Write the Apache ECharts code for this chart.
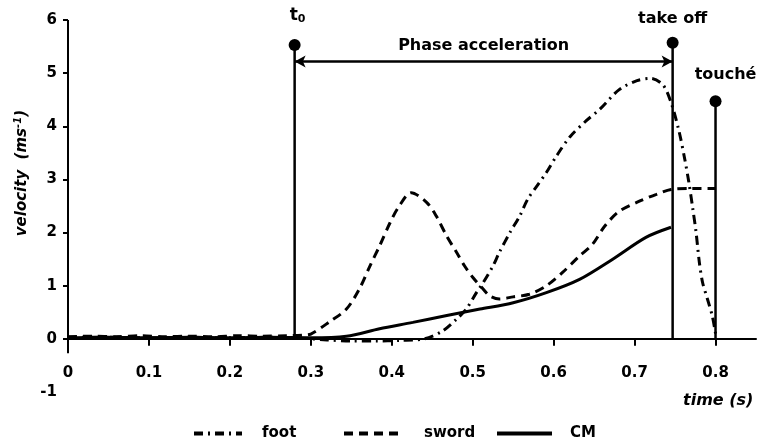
<!DOCTYPE html>
<html>
<head>
<meta charset="utf-8">
<script src="https://cdn.jsdelivr.net/npm/echarts@6/dist/echarts.min.js"></script>
<style>html,body{margin:0;padding:0;background:#fff}#c{width:758px;height:448px}</style>
</head>
<body>
<div id="c"></div>
<script>
// ---- data ----
const xTicks = [0, 0.1, 0.2, 0.3, 0.4, 0.5, 0.6, 0.7, 0.8];
const yTicks = [0, 1, 2, 3, 4, 5, 6];
const yLabels = [-1, 0, 1, 2, 3, 4, 5, 6];

const footT = [0, 0.05, 0.1, 0.15, 0.2, 0.25, 0.28, 0.32, 0.35, 0.38, 0.41, 0.44, 0.463, 0.48, 0.492, 0.505, 0.513, 0.525, 0.533, 0.546, 0.558, 0.568, 0.579, 0.591, 0.603, 0.62, 0.64, 0.657, 0.681, 0.703, 0.72, 0.735, 0.745, 0.755, 0.762, 0.767, 0.772, 0.776, 0.78, 0.784, 0.79, 0.796, 0.8];
const footV = [0.03, 0.03, 0.02, 0.03, 0.02, 0.03, 0.02, -0.02, -0.04, -0.04, -0.03, 0.0, 0.15, 0.37, 0.56, 0.88, 1.06, 1.37, 1.63, 2.0, 2.31, 2.63, 2.87, 3.13, 3.43, 3.8, 4.1, 4.32, 4.69, 4.86, 4.9, 4.78, 4.45, 3.9, 3.38, 2.95, 2.44, 2.0, 1.44, 1.06, 0.75, 0.43, 0.1];

const swordT = [0, 0.03, 0.06, 0.09, 0.12, 0.15, 0.18, 0.21, 0.24, 0.27, 0.29, 0.30, 0.323, 0.344, 0.36, 0.373, 0.385, 0.398, 0.408, 0.424, 0.443, 0.455, 0.468, 0.48, 0.49, 0.50, 0.511, 0.521, 0.533, 0.55, 0.57, 0.591, 0.611, 0.632, 0.648, 0.663, 0.681, 0.706, 0.727, 0.745, 0.77, 0.8];
const swordV = [0.04, 0.05, 0.04, 0.06, 0.04, 0.05, 0.04, 0.06, 0.05, 0.06, 0.07, 0.09, 0.32, 0.56, 0.94, 1.37, 1.75, 2.19, 2.47, 2.75, 2.57, 2.31, 1.93, 1.63, 1.37, 1.16, 0.97, 0.81, 0.75, 0.79, 0.84, 1.0, 1.25, 1.56, 1.78, 2.12, 2.4, 2.59, 2.72, 2.81, 2.83, 2.83];

const cmT = [0, 0.05, 0.1, 0.15, 0.2, 0.25, 0.3, 0.344, 0.385, 0.426, 0.468, 0.509, 0.55, 0.591, 0.632, 0.673, 0.714, 0.745];
const cmV = [0.02, 0.03, 0.02, 0.03, 0.02, 0.03, 0.02, 0.05, 0.19, 0.31, 0.44, 0.56, 0.68, 0.87, 1.12, 1.5, 1.91, 2.1];

const eventNames = ['t0', 'take off', 'touché'];
const eventTimes = [0.28, 0.747, 0.80];
const eventTops = [5.53, 5.57, 4.47];
const phaseLevel = 5.22;
const phaseLabel = 'Phase acceleration';

// ---- chart ----
const FONT = 'DejaVu Sans';
const pairs = (t, v) => t.map((x, i) => [x, v[i]]);

const eventLabelFmt = [
  '{t|t}{s|0}',
  '{n|take off}',
  '{n|touché}'
];
const eventLabelOffset = [[3, 0], [0, 0], [10, 0]];
const eventLabelDist = [14, 10, 12];

const eventSeries = eventNames.map((name, i) => ({
  name: 'ev_' + i,
  type: 'line',
  symbol: 'circle',
  symbolSize: 12,
  itemStyle: { color: '#000' },
  lineStyle: { color: '#000', width: 2.5 },
  z: 5,
  data: [
    { value: [eventTimes[i], 0], symbol: 'none' },
    {
      value: [eventTimes[i], eventTops[i]],
      label: {
        show: true,
        position: 'top',
        distance: eventLabelDist[i],
        offset: eventLabelOffset[i],
        formatter: eventLabelFmt[i],
        rich: {
          t: { fontFamily: FONT, fontWeight: 'bold', fontSize: 17, color: '#000' },
          s: { fontFamily: FONT, fontWeight: 'bold', fontSize: 11, color: '#000', padding: [8, 0, 0, 0] },
          n: { fontFamily: FONT, fontWeight: 'bold', fontSize: 16, color: '#000' }
        }
      }
    }
  ]
}));

const legendBase = (name, left, w, pad) => ({
  data: [name],
  left: left,
  top: 421,
  itemWidth: w,
  itemHeight: 14,
  itemStyle: { color: 'rgba(0,0,0,0)', borderWidth: 0, opacity: 0 },
  lineStyle: { width: 4 },
  textStyle: { fontFamily: FONT, fontWeight: 'bold', fontSize: 15, color: '#000', padding: [0, 0, 0, pad] },
  selectedMode: false
});

const option = {
  animation: false,
  backgroundColor: '#fff',
  textStyle: { fontFamily: FONT },
  grid: { left: 68, right: 2, top: 20, bottom: 56 },
  legend: [
    legendBase('foot', 187, 48, 15),
    legendBase('sword', 337, 58, 17),
    legendBase('CM', 490, 55, 13)
  ],
  xAxis: {
    type: 'value',
    min: 0,
    max: 0.85,
    interval: 0.1,
    axisLine: { onZero: true, lineStyle: { color: '#000', width: 2 } },
    axisTick: { show: true, customValues: xTicks, length: 7, lineStyle: { color: '#000', width: 2 } },
    axisLabel: {
      customValues: xTicks,
      margin: -26,
      fontFamily: FONT, fontWeight: 'bold', fontSize: 15, color: '#000',
      formatter: v => String(v)
    },
    splitLine: { show: false }
  },
  yAxis: {
    type: 'value',
    min: -1,
    max: 6,
    interval: 1,
    axisLine: { show: false },
    axisTick: { show: true, customValues: yTicks, length: 5, lineStyle: { color: '#000', width: 2 } },
    axisLabel: {
      customValues: yLabels,
      margin: 11,
      fontFamily: FONT, fontWeight: 'bold', fontSize: 15, color: '#000'
    },
    splitLine: { show: false }
  },
  graphic: [
    {
      type: 'text',
      left: 13, top: 110,
      rotation: Math.PI / 2,
      originX: 0, originY: 0,
      style: {
        text: '{a|velocity  (ms}{b|-1}{a|)}',
        rich: {
          a: { fontFamily: FONT, fontWeight: 'bold', fontStyle: 'italic', fontSize: 15, fill: '#000' },
          b: { fontFamily: FONT, fontWeight: 'bold', fontStyle: 'italic', fontSize: 10, fill: '#000', padding: [0, 0, 8, 0] }
        }
      }
    },
    {
      type: 'text',
      left: 683, top: 393,
      style: { text: 'time (s)', fontFamily: FONT, fontWeight: 'bold', fontStyle: 'italic', fontSize: 16, fill: '#000' }
    }
  ],
  series: [
    {
      name: 'foot', type: 'line', symbol: 'none', smooth: 0.3,
      lineStyle: { color: '#000', width: 3, type: [9, 5, 2, 5] },
      itemStyle: { color: '#000' },
      data: pairs(footT, footV)
    },
    {
      name: 'sword', type: 'line', symbol: 'none', smooth: 0.3,
      lineStyle: { color: '#000', width: 3, type: [9, 6] },
      itemStyle: { color: '#000' },
      data: pairs(swordT, swordV)
    },
    {
      name: 'CM', type: 'line', symbol: 'none', smooth: 0.3,
      lineStyle: { color: '#000', width: 3, type: 'solid' },
      itemStyle: { color: '#000' },
      data: pairs(cmT, cmV)
    },
    {
      name: 'yaxisline', type: 'line', symbol: 'none', silent: true,
      lineStyle: { color: '#000', width: 2 },
      data: [[0, -0.27], [0, 6]]
    },
    {
      name: 'phase', type: 'line', data: [], silent: true,
      markLine: {
        silent: true,
        symbol: ['arrow', 'arrow'],
        symbolSize: [9, 11],
        lineStyle: { color: '#000', width: 2.5, type: 'solid' },
        label: {
          show: true,
          position: 'insideMiddleTop',
          distance: 8,
          formatter: phaseLabel,
          fontFamily: FONT, fontWeight: 'bold', fontSize: 16, color: '#000'
        },
        data: [[
          { coord: [eventTimes[0], phaseLevel] },
          { coord: [eventTimes[1], phaseLevel] }
        ]]
      }
    },
    ...eventSeries
  ]
};

const chart = echarts.init(document.getElementById('c'), null, { renderer: 'canvas' });
chart.setOption(option);
</script>
</body>
</html>
